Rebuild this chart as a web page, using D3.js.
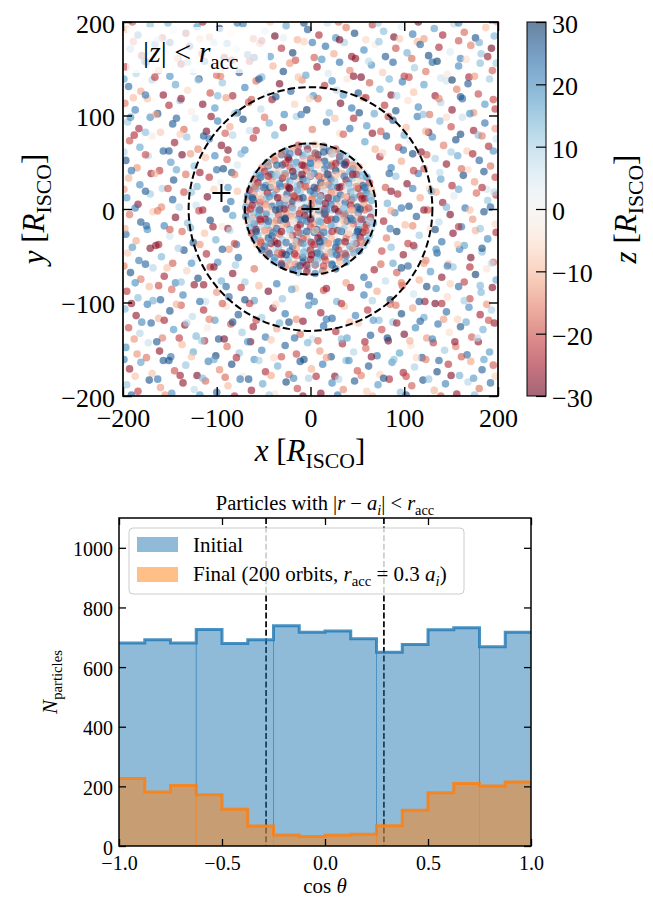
<!DOCTYPE html>
<html>
<head>
<meta charset="utf-8">
<script src="https://cdn.jsdelivr.net/npm/d3@7"></script>
<style>
  body { margin: 0; background: #fff; }
  svg { display: block; }
</style>
</head>
<body>
<script>
// ---- DATA -----------------------------------------------------------------
// scattered particles outside the accretion disk: [x, y, z] in R_ISCO
const outerParticles = [
  [-196,192,-8],[-184,186,24],[-171,197,12],[-158,183,-22],[-146,191,5],[-133,188,-27],[-121,195,18],[-108,184,-14],[-97,193,29],[-85,187,-4],[-72,198,21],[-61,182,-19],[-49,190,9],[-38,185,-30],[-26,196,16],[-14,181,-11],[-3,192,26],[9,186,-24],[18,199,7],[27,183,19],[38,194,-16],[47,188,28],[59,181,-6],[66,197,-21],[78,190,13],[89,184,-29],[97,195,3],[109,187,22],[121,182,-13],[132,193,17],[141,186,-25],[153,198,8],[164,189,-18],[176,183,27],[187,194,-9],[196,185,14],
  [-192,171,15],[-180,164,-26],[-166,176,20],[-154,168,-3],[-141,161,-17],[-129,174,25],[-116,166,-21],[-103,178,11],[-92,162,-28],[-79,171,6],[-67,165,23],[-54,177,-15],[-43,163,18],[-31,172,-23],[-19,167,29],[-7,179,-7],[4,162,-19],[16,174,24],[25,166,-12],[36,178,10],[48,161,-27],[57,170,20],[69,176,-2],[80,163,26],[91,172,-20],[103,167,15],[114,179,-10],[126,164,28],[137,173,-24],[149,168,4],[160,161,21],[171,175,-16],[182,166,12],[193,172,-29],
  [-197,152,-21],[-186,145,9],[-175,157,27],[-162,148,-13],[-150,142,19],[-138,155,-28],[-125,147,6],[-113,158,22],[-100,143,-18],[-88,151,-5],[-76,146,26],[-65,158,-24],[-52,141,14],[-40,153,-11],[-29,147,28],[-16,159,-20],[-5,143,17],[7,152,-26],[19,145,5],[31,157,23],[42,148,-15],[54,141,-29],[65,154,19],[77,146,-8],[88,157,25],[100,142,-22],[111,151,11],[123,147,-17],[135,158,29],[146,144,-3],[158,153,20],[169,141,-25],[181,156,13],[194,148,-19],
  [-194,131,24],[-181,126,-12],[-169,138,8],[-157,122,-27],[-144,133,16],[-131,127,-6],[-119,139,28],[-107,124,-20],[-94,135,12],[-83,121,-25],[-70,130,21],[-58,137,-17],[-46,123,3],[-33,134,-29],[-21,126,25],[-9,138,-14],[3,121,19],[15,132,-23],[28,127,9],[39,139,-4],[51,124,27],[63,135,-19],[74,128,14],[86,122,-28],[98,136,22],[110,125,-9],[121,133,17],[133,121,-26],[145,137,6],[156,128,-16],[168,134,26],[179,123,-21],[191,139,11],
  [-198,113,-16],[-187,106,21],[-174,118,-9],[-163,102,27],[-151,111,-24],[-139,116,13],[-127,104,-2],[-115,112,-28],[-102,108,18],[-90,119,-13],[-78,103,25],[-66,114,-20],[-53,107,8],[-41,117,-26],[-28,101,20],[-17,112,-7],[-4,106,29],[8,118,-18],[20,103,12],[32,113,-29],[44,108,23],[56,119,-11],[68,102,16],[79,111,-23],[91,105,27],[104,116,-5],[115,109,20],[127,101,-17],[139,114,9],[151,106,-27],[162,118,24],[174,103,-14],[186,112,18],[197,107,-22],
  [-195,93,11],[-183,86,-25],[-171,98,19],[-160,82,-8],[-147,91,26],[-135,85,-18],[-123,97,4],[-111,83,-29],[-99,94,21],[-86,88,-12],[-72,96,28],[-58,84,-22],[-44,92,15],[-29,87,-27],[-15,99,10],[2,85,-16],[17,93,25],[31,81,-5],[46,97,-24],[60,89,18],[75,83,-19],[88,95,27],[102,87,-10],[114,99,22],[126,82,-28],[138,94,14],[150,88,-21],[162,98,7],[174,84,-26],[186,92,23],[197,86,-13],
  [-193,73,-20],[-182,66,16],[-169,78,-3],[-157,62,25],[-145,71,-26],[-132,77,12],[-120,64,-15],[-108,75,22],[-95,68,-28],[-83,79,9],[-70,63,19],[-61,76,-23],[-38,79,14],[35,80,-19],[58,72,17],[69,64,-11],[81,78,26],[94,66,-21],[106,73,3],[118,61,-27],[130,77,20],[142,68,-16],[155,74,28],[167,62,-8],[179,79,13],[190,67,-24],[198,75,6],
  [-197,52,27],[-185,44,-14],[-173,57,8],[-161,41,-22],[-149,50,18],[-137,58,-29],[-124,46,13],[-112,55,-9],[-100,42,24],[-89,53,-19],[-78,47,5],[74,56,-25],[86,44,21],[97,51,-12],[109,59,28],[121,43,-20],[133,54,10],[145,48,-27],[157,57,16],[168,42,-6],[180,52,25],[192,46,-17],
  [-194,33,-11],[-182,26,20],[-170,38,-26],[-158,22,9],[-146,31,27],[-133,37,-17],[-121,24,14],[-108,34,-23],[-96,28,2],[-84,39,26],[80,23,-19],[91,35,12],[103,27,-28],[115,38,21],[127,22,-7],[139,32,17],[151,25,-24],[163,36,28],[175,29,-13],[188,21,6],[197,34,-21],
  [-196,12,18],[-184,5,-27],[-171,16,11],[-159,2,-15],[-147,10,25],[-135,18,-20],[-122,4,7],[-110,13,-29],[-85,8,22],[-78,19,-9],[82,6,15],[93,16,-24],[105,3,27],[117,12,-12],[129,19,19],[141,7,-26],[153,14,4],[165,1,23],[177,17,-18],[189,9,12],[198,15,-22],
  [-193,-6,-17],[-181,-14,26],[-168,-3,-8],[-156,-18,21],[-144,-9,-28],[-131,-15,13],[-119,-2,-21],[-107,-12,28],[-94,-19,-4],[-83,-7,17],[78,-13,-25],[90,-4,20],[101,-17,-10],[113,-8,26],[125,-1,-19],[137,-14,8],[149,-6,-29],[161,-19,22],[173,-11,-14],[185,-3,27],[197,-16,-6],
  [-197,-27,24],[-186,-34,-12],[-174,-22,19],[-162,-38,-25],[-150,-29,6],[-137,-24,-18],[-125,-36,27],[-113,-26,-9],[-101,-33,15],[-88,-21,-27],[-79,-38,23],[81,-31,-16],[92,-24,29],[104,-37,-22],[116,-28,11],[128,-21,-5],[140,-35,24],[152,-26,-28],[164,-39,17],[176,-23,-11],[189,-32,20],[198,-25,-24],
  [-195,-47,-8],[-183,-55,22],[-171,-42,-28],[-159,-51,14],[-147,-58,-19],[-135,-44,27],[-123,-53,3],[-111,-48,-24],[-99,-57,19],[-87,-43,-13],[-77,-52,25],[76,-45,-21],[88,-58,16],[99,-49,-27],[111,-41,9],[123,-55,-15],[135,-47,26],[147,-59,-10],[159,-43,21],[171,-52,-29],[183,-46,13],[195,-57,-18],
  [-192,-68,27],[-181,-75,-16],[-168,-63,9],[-156,-72,-25],[-144,-79,20],[-132,-66,-7],[-120,-74,28],[-107,-62,-21],[-95,-77,15],[-83,-69,-28],[-70,-78,11],[-60,-64,-17],[-36,-80,22],[38,-79,-13],[57,-73,24],[68,-65,-26],[80,-77,8],[92,-68,-19],[104,-61,25],[116,-76,-11],[128,-67,18],[140,-73,-27],[152,-62,12],[164,-78,-22],[176,-70,29],[188,-64,-4],[198,-76,16],
  [-196,-88,-23],[-184,-95,13],[-172,-83,-10],[-160,-97,26],[-148,-86,-18],[-136,-92,21],[-124,-81,-27],[-112,-99,7],[-100,-89,-14],[-87,-94,25],[-74,-84,-22],[-60,-98,17],[-45,-88,-29],[-30,-96,12],[-16,-85,-8],[-1,-93,27],[14,-87,-20],[28,-99,15],[43,-84,-25],[57,-92,22],[71,-88,-12],[85,-97,28],[98,-82,-18],[110,-91,6],[122,-99,-26],[134,-85,19],[146,-94,-6],[158,-83,24],[170,-96,-21],[182,-89,14],[194,-84,-28],
  [-198,-107,14],[-186,-114,-27],[-174,-102,22],[-162,-117,-11],[-150,-109,27],[-138,-103,-19],[-126,-115,8],[-114,-108,-24],[-102,-119,18],[-90,-104,-5],[-77,-113,26],[-65,-101,-22],[-52,-116,11],[-40,-106,-28],[-27,-112,23],[-15,-118,-14],[-2,-103,19],[11,-111,-26],[23,-117,25],[36,-104,-9],[48,-114,21],[61,-108,-23],[73,-119,13],[85,-102,-17],[97,-112,28],[109,-106,-12],[121,-116,16],[133,-101,-29],[145,-110,24],[157,-118,-7],[169,-105,20],[181,-113,-25],[193,-108,10],
  [-194,-127,-21],[-182,-133,9],[-170,-122,25],[-158,-138,-16],[-146,-129,18],[-134,-124,-28],[-122,-136,14],[-110,-127,-3],[-98,-139,27],[-85,-123,-20],[-73,-132,11],[-61,-126,-26],[-48,-137,22],[-36,-128,-12],[-23,-121,28],[-11,-134,-18],[2,-139,6],[14,-125,24],[27,-131,-24],[39,-138,17],[51,-122,-9],[64,-135,26],[76,-129,-21],[88,-121,12],[100,-134,-29],[112,-127,20],[124,-138,-14],[136,-123,23],[148,-132,-5],[160,-126,27],[172,-137,-19],[184,-129,15],[196,-122,-26],
  [-197,-148,20],[-185,-155,-14],[-173,-143,7],[-161,-152,-27],[-149,-158,23],[-137,-145,-10],[-125,-153,16],[-113,-141,-24],[-101,-157,29],[-89,-147,-17],[-76,-154,12],[-64,-142,-29],[-52,-151,21],[-39,-159,-6],[-27,-146,25],[-15,-155,-21],[-3,-143,14],[10,-152,-13],[22,-158,27],[34,-144,-25],[46,-153,9],[59,-149,-18],[71,-157,22],[83,-141,-28],[95,-154,17],[107,-146,-4],[119,-159,26],[131,-143,-22],[143,-151,11],[155,-147,-16],[167,-156,24],[179,-142,-27],[191,-153,18],
  [-193,-171,-26],[-181,-164,17],[-169,-176,-9],[-157,-162,26],[-145,-173,-20],[-133,-167,12],[-121,-178,-29],[-109,-163,21],[-97,-172,-15],[-84,-166,28],[-72,-179,-3],[-60,-161,19],[-48,-174,-24],[-35,-168,15],[-23,-177,-18],[-11,-163,27],[1,-171,-11],[13,-166,22],[26,-179,-28],[38,-162,13],[50,-173,-20],[62,-168,26],[74,-177,-7],[87,-164,18],[99,-175,-25],[111,-169,10],[123,-161,-16],[135,-174,28],[147,-166,-23],[159,-178,15],[171,-163,-12],[183,-172,25],[195,-167,-19],
  [-196,-188,12],[-184,-195,-22],[-172,-183,27],[-160,-191,-13],[-148,-197,19],[-136,-186,-27],[-124,-193,8],[-112,-184,-18],[-100,-196,25],[-88,-189,-10],[-75,-182,22],[-63,-194,-26],[-51,-187,16],[-38,-198,-4],[-26,-185,28],[-14,-192,-21],[-2,-181,10],[11,-197,-28],[23,-186,20],[35,-193,-15],[47,-184,26],[60,-195,-8],[72,-188,18],[84,-182,-24],[96,-196,13],[108,-189,-19],[120,-183,27],[132,-194,-11],[144,-187,21],[156,-198,-26],[168,-185,9],[180,-192,-17],[192,-186,24]
];

// second set of outer particles, sitting between the rows of the first set
const outerParticlesExtra = [
  [-190,200,-19],[-152,199,14],[-115,200,-25],[-78,199,22],[-43,200,-8],[-7,199,27],[30,200,-17],[72,199,11],[115,200,-28],[158,199,20],[199,200,-12],
  [-189,179,-18],[-163,181,9],[-150,178,26],[-118,182,-11],[-89,177,17],[-52,180,-25],[-29,183,3],[2,178,22],[31,181,-29],[73,179,12],[95,182,-8],[117,176,25],[158,180,-20],[180,178,15],
  [-177,158,22],[-143,161,-7],[-131,157,15],[-84,159,-24],[-60,162,28],[-22,156,-14],[12,160,19],[44,163,-27],[62,158,8],[108,161,-18],[130,157,24],[166,160,-5],[189,163,-26],[198,156,11],
  [-199,139,17],[-166,141,-23],[-120,138,10],[-96,142,-16],[-55,139,26],[-13,141,-9],[23,137,20],[46,142,-28],[84,139,14],[105,141,-21],[151,138,29],[175,142,-13],[139,140,6],
  [-189,119,-10],[-176,122,23],[-138,118,-26],[-99,121,14],[-63,117,-19],[-37,120,27],[-1,118,-6],[35,122,18],[59,119,-24],[92,121,9],[137,118,-15],[160,120,26],[195,117,-21],
  [-192,98,20],[-165,101,-12],[-143,97,25],[-106,99,-27],[-81,102,11],[-49,98,-17],[-10,101,22],[26,97,-9],[52,103,28],[83,99,-23],[120,101,13],[145,98,-6],[170,102,19],
  [-188,79,-24],[-176,82,13],[-139,80,-8],[-114,78,26],[-91,81,-19],[-65,84,7],[42,86,23],[66,81,-27],[100,79,16],[123,83,-11],[160,80,28],[183,78,-16],
  [-199,61,9],[-176,58,-21],[-151,62,27],[-128,59,-13],[-102,57,20],[-88,63,-28],[-74,59,14],[77,60,-6],[99,63,24],[124,58,-19],[150,61,11],[173,59,-25],[195,62,19],
  [-191,41,23],[-166,38,-10],[-143,42,16],[-118,39,-26],[-93,43,28],[-81,37,-15],[84,38,25],[110,41,-22],[138,39,8],[161,43,-18],[185,40,27],
  [-199,21,-13],[-176,19,26],[-152,22,-20],[-127,18,12],[-103,21,-7],[-88,23,18],[86,19,-28],[109,22,21],[134,18,-11],[158,21,16],[183,23,-24],[196,18,9],
  [-187,1,22],[-163,-2,-16],[-140,2,9],[-115,-1,-25],[-90,0,27],[86,-2,-12],[97,1,23],[121,-1,-27],[145,2,14],[170,-1,-9],[192,2,25],
  [-198,-21,-11],[-175,-18,24],[-150,-22,-19],[-128,-20,15],[-104,-19,-26],[-86,-23,8],[85,-21,21],[109,-18,-15],[133,-22,28],[158,-19,-23],[181,-21,12],
  [-190,-41,18],[-165,-39,-27],[-141,-42,10],[-118,-38,-14],[-94,-43,26],[-81,-37,-20],[86,-41,13],[110,-39,-25],[134,-43,20],[157,-38,-8],[183,-42,27],
  [-199,-61,-16],[-176,-59,25],[-153,-63,-9],[-127,-58,19],[-103,-62,-28],[-80,-60,11],[75,-59,-18],[97,-63,27],[121,-58,-13],[146,-61,22],[170,-62,-24],[193,-58,7],
  [-187,-79,19],[-162,-82,-21],[-138,-78,12],[-114,-81,-27],[-90,-83,24],[-55,-82,-10],[-20,-86,17],[17,-85,-26],[62,-81,21],[97,-79,-16],[124,-83,28],[149,-80,-7],[181,-82,14],
  [-191,-101,-27],[-168,-98,15],[-143,-102,-11],[-118,-99,24],[-94,-101,-19],[-70,-97,28],[-37,-102,-6],[4,-99,21],[33,-101,-23],[66,-98,10],[91,-103,-17],[116,-99,26],[140,-101,-24],[164,-98,11],[188,-102,-14],
  [-180,-121,20],[-156,-119,-25],[-132,-122,9],[-108,-118,-16],[-83,-121,27],[-58,-119,-21],[-33,-122,15],[-8,-120,-28],[17,-118,23],[42,-121,-10],[67,-119,18],[92,-122,-26],[117,-120,25],[142,-118,-13],[166,-121,16],[190,-119,-20],
  [-188,-139,-14],[-164,-142,26],[-140,-138,-22],[-116,-141,11],[-92,-139,-29],[-67,-142,19],[-42,-140,-8],[-17,-138,24],[8,-141,-18],[33,-139,13],[58,-142,-25],[82,-138,28],[106,-141,-11],[130,-139,21],[154,-142,-27],[178,-138,8],
  [-199,-161,22],[-175,-159,-17],[-151,-162,27],[-127,-158,-9],[-103,-161,16],[-79,-159,-24],[-55,-162,10],[-31,-158,-20],[-7,-161,28],[17,-159,-13],[41,-162,19],[65,-158,-28],[89,-161,13],[113,-159,-6],[137,-162,25],[161,-158,-19],[185,-161,17],
  [-187,-179,-9],[-163,-182,23],[-139,-178,-26],[-115,-181,14],[-91,-180,-18],[-66,-182,26],[-42,-178,-12],[-18,-181,20],[6,-179,-24],[30,-182,9],[54,-178,-16],[78,-181,27],[102,-179,-21],[126,-182,12],[150,-178,-28],[174,-181,18],[197,-179,-7],
  [-191,-199,25],[-155,-199,-14],[-118,-199,18],[-81,-200,-23],[-44,-199,11],[-8,-200,-27],[29,-199,22],[66,-200,-10],[102,-199,26],[139,-200,-19],[175,-199,13]
];

// dense particles inside r_acc: [x, y, z]
const innerParticles = [
  [-13,68,-22],[-4,67,12],[5,69,-9],[14,67,25],
  [-27,62,21],[-19,65,-14],[-11,61,8],[-3,64,-26],[5,60,17],[13,66,-7],[20,62,27],[27,64,-19],
  [-39,56,-12],[-31,58,24],[-24,55,-27],[-16,59,6],[-8,57,19],[0,54,-21],[8,58,28],[16,55,-4],[23,59,15],[31,56,-25],[38,57,10],
  [-46,50,26],[-38,52,-18],[-31,49,3],[-23,53,-29],[-15,50,20],[-8,52,-9],[0,49,14],[8,53,-23],[15,51,27],[23,48,-13],[31,52,18],[38,50,-26],[46,51,7],
  [-52,44,-16],[-45,46,22],[-37,43,-5],[-30,47,28],[-22,45,-20],[-15,42,11],[-7,46,-27],[0,44,16],[7,47,-10],[15,43,25],[22,46,-22],[30,44,4],[37,47,-28],[45,43,19],[52,45,-13],
  [-57,38,13],[-49,40,-24],[-42,37,27],[-34,41,-8],[-27,38,18],[-19,40,-29],[-11,36,9],[-4,41,-17],[4,38,24],[11,40,-3],[19,37,-21],[27,41,29],[34,38,-12],[42,40,16],[49,37,-25],[57,39,6],
  [-60,32,-19],[-53,34,25],[-45,31,-7],[-38,35,14],[-30,33,-28],[-22,30,20],[-15,34,-11],[-8,32,27],[0,35,-23],[8,31,5],[15,34,-15],[22,32,26],[30,35,-2],[38,31,-26],[45,33,17],[53,30,-9],[60,34,22],
  [-63,26,10],[-56,28,-27],[-48,25,19],[-41,29,-13],[-33,27,24],[-26,24,-20],[-19,28,6],[-11,26,-29],[-4,30,15],[4,25,-6],[11,28,28],[19,26,-17],[26,29,12],[33,24,-24],[41,27,21],[48,29,-3],[56,25,26],[63,28,-21],
  [-65,20,-25],[-58,22,16],[-51,19,-8],[-43,23,28],[-36,21,-18],[-29,18,2],[-22,22,-28],[-14,20,20],[-7,23,-12],[0,19,25],[7,22,-22],[14,20,9],[22,18,-16],[29,23,27],[36,21,-5],[43,19,18],[51,22,-27],[58,20,13],[65,21,-10],
  [-67,14,23],[-60,16,-14],[-53,13,5],[-46,17,-26],[-39,15,19],[-32,12,-9],[-25,16,27],[-18,14,-21],[-11,17,12],[-4,13,-3],[4,16,22],[11,14,-28],[18,12,16],[25,17,-11],[32,15,26],[39,13,-19],[46,16,8],[53,14,-24],[60,17,20],[67,15,-6],
  [-68,8,-11],[-61,10,27],[-54,7,-23],[-47,11,13],[-40,9,-4],[-33,6,24],[-26,10,-17],[-19,8,29],[-12,11,-26],[-5,7,8],[2,10,-15],[9,8,21],[16,6,-29],[23,11,14],[30,9,-8],[37,7,26],[44,10,-20],[51,8,3],[58,11,-27],[65,9,17],
  [-69,2,18],[-62,4,-28],[-55,1,11],[-48,5,-16],[-41,3,25],[-34,0,-7],[-27,4,19],[-20,2,-24],[-13,5,4],[-6,1,28],[1,4,-19],[8,2,14],[15,0,-27],[22,5,23],[29,3,-10],[36,1,17],[43,4,-25],[50,2,29],[57,5,-13],[64,1,6],
  [-68,-2,-20],[-61,-4,14],[-54,-1,-29],[-47,-5,22],[-40,-3,-6],[-33,0,26],[-26,-4,-15],[-19,-2,9],[-12,-5,-25],[-5,-1,17],[2,-4,-9],[9,-2,27],[16,-5,-21],[23,-1,12],[30,-3,-28],[37,-5,20],[44,-2,-3],[51,-4,24],[58,-1,-18],[65,-3,10],
  [-69,-8,25],[-62,-10,-12],[-55,-7,19],[-48,-11,-27],[-41,-9,7],[-34,-6,-20],[-27,-10,28],[-20,-8,-14],[-13,-11,21],[-6,-7,-30],[1,-10,16],[8,-8,-5],[15,-6,26],[22,-11,-23],[29,-9,11],[36,-7,-17],[43,-10,27],[50,-8,-9],[57,-11,18],[64,-9,-26],
  [-67,-14,-7],[-60,-16,21],[-53,-13,-24],[-46,-17,15],[-39,-15,-12],[-32,-12,27],[-25,-16,-19],[-18,-14,5],[-11,-17,-28],[-4,-13,23],[4,-16,-14],[11,-14,18],[18,-12,-25],[25,-17,10],[32,-15,-4],[39,-13,28],[46,-16,-21],[53,-14,13],[60,-17,-29],[67,-15,19],
  [-65,-20,16],[-58,-22,-27],[-51,-19,9],[-43,-23,-16],[-36,-21,25],[-29,-18,-10],[-22,-22,20],[-14,-20,-26],[-7,-23,6],[0,-19,-21],[7,-22,27],[14,-20,-13],[22,-18,17],[29,-23,-29],[36,-21,12],[43,-19,-6],[51,-22,24],[58,-20,-19],[65,-21,8],
  [-63,-26,-23],[-56,-28,13],[-48,-25,-8],[-41,-29,26],[-33,-27,-18],[-26,-24,4],[-19,-28,-28],[-11,-26,19],[-4,-30,-12],[4,-25,24],[11,-28,-22],[19,-26,10],[26,-29,-4],[33,-24,28],[41,-27,-15],[48,-29,17],[56,-25,-27],[63,-28,14],
  [-60,-32,22],[-53,-34,-15],[-45,-31,27],[-38,-35,-25],[-30,-33,11],[-22,-30,-5],[-15,-34,25],[-8,-32,-20],[0,-35,15],[8,-31,-29],[15,-34,20],[22,-32,-10],[30,-35,26],[38,-31,-17],[45,-33,6],[53,-30,-26],[60,-34,18],
  [-57,-38,-11],[-49,-40,24],[-42,-37,-28],[-34,-41,14],[-27,-38,-3],[-19,-40,27],[-11,-36,-19],[-4,-41,9],[4,-38,-24],[11,-40,21],[19,-37,-13],[27,-41,28],[34,-38,-7],[42,-40,17],[49,-37,-27],[57,-39,12],
  [-52,-44,26],[-45,-46,-19],[-37,-43,8],[-30,-47,-27],[-22,-45,22],[-15,-42,-12],[-7,-46,16],[0,-44,-25],[7,-47,29],[15,-43,-6],[22,-46,19],[30,-44,-22],[37,-47,11],[45,-43,-15],[52,-45,25],
  [-46,-50,-13],[-38,-52,21],[-31,-49,-26],[-23,-53,10],[-15,-50,-18],[-8,-52,27],[0,-49,-8],[8,-53,17],[15,-51,-29],[23,-48,14],[31,-52,-20],[38,-50,23],[46,-51,-4],
  [-39,-56,18],[-31,-58,-24],[-24,-55,12],[-16,-59,-15],[-8,-57,26],[0,-54,-27],[8,-58,7],[16,-55,-19],[23,-59,24],[31,-56,-10],[38,-57,20],
  [-27,-62,-17],[-19,-65,25],[-11,-61,-28],[-3,-64,13],[5,-60,-21],[13,-66,19],[20,-62,-8],[27,-64,27],
  [-13,-68,16],[-4,-67,-25],[5,-69,22],[14,-67,-12]
];

// second set inside r_acc, between the rows of the first
const innerParticlesExtra = [
  [-64,0,-22],[-55,-1,17],[-46,1,-9],[-37,-1,28],[-28,0,-26],[-19,1,13],[-10,-1,-18],[-1,0,24],[8,1,-4],[17,-1,20],[26,0,-29],[35,1,9],[44,-1,-14],[53,0,27],[62,1,-20],
  [-62,12,26],[-53,11,-12],[-44,13,19],[-35,12,-28],[-26,11,6],[-17,13,-21],[-8,12,27],[1,11,-15],[10,13,11],[19,12,-25],[28,11,22],[37,13,-7],[46,12,16],[55,11,-27],[64,13,13],
  [-63,-12,11],[-54,-11,-25],[-45,-13,23],[-36,-12,-14],[-27,-11,29],[-18,-13,-5],[-9,-12,18],[0,-11,-27],[9,-13,14],[18,-12,-19],[27,-11,25],[36,-13,-10],[45,-12,21],[54,-11,-23],[63,-13,7],
  [-59,24,-17],[-50,23,25],[-41,25,-6],[-32,24,19],[-23,23,-29],[-14,25,12],[-5,24,-20],[4,23,27],[13,25,-11],[22,24,16],[31,23,-26],[40,25,8],[49,24,-15],[58,23,24],
  [-58,-24,27],[-49,-23,-13],[-40,-25,20],[-31,-24,-27],[-22,-23,9],[-13,-25,-18],[-4,-24,26],[5,-23,-8],[14,-25,21],[23,-24,-24],[32,-23,13],[41,-25,-3],[50,-24,28],[59,-23,-19],
  [-54,36,19],[-45,35,-24],[-36,37,11],[-27,36,-15],[-18,35,26],[-9,37,-29],[0,36,7],[9,35,-19],[18,37,25],[27,36,-9],[36,35,22],[45,37,-26],[54,36,14],
  [-53,-36,-20],[-44,-35,15],[-35,-37,-28],[-26,-36,23],[-17,-35,-6],[-8,-37,18],[1,-36,-23],[10,-35,28],[19,-37,-12],[28,-36,21],[37,-35,-27],[46,-37,10],[55,-36,-16],
  [-45,48,-11],[-36,47,24],[-27,49,-22],[-18,48,13],[-9,47,-27],[0,49,22],[9,48,-5],[18,47,18],[27,49,-25],[36,48,26],[45,47,-14],
  [-44,-48,23],[-35,-47,-16],[-26,-49,27],[-17,-48,-24],[-8,-47,11],[1,-49,-29],[10,-48,19],[19,-47,-9],[28,-49,24],[37,-48,-20],[46,-47,15],
  [-31,60,-15],[-22,59,21],[-13,61,-26],[-4,60,10],[5,59,-19],[14,61,26],[23,60,-7],[32,59,17],
  [-31,-60,26],[-22,-59,-11],[-13,-61,19],[-4,-60,-27],[5,-59,14],[14,-61,-21],[23,-60,23],[32,-59,-6]
];

const circleRadii = [70, 130];          // r_acc and outer dashed circle
const crossMarks = [[0, 0], [-95, 17]];
const scatterTicks = [-200, -100, 0, 100, 200];
const zTicks = [-30, -20, -10, 0, 10, 20, 30];

// histogram of cos(theta)
const binEdges = [-1, -0.875, -0.75, -0.625, -0.5, -0.375, -0.25, -0.125, 0,
                  0.125, 0.25, 0.375, 0.5, 0.625, 0.75, 0.875, 1];
const initialCounts = [681, 692, 681, 726, 679, 692, 739, 717, 721, 695, 650, 676, 725, 732, 668, 717];
const finalCounts   = [226, 181, 203, 172, 123, 67, 37, 32, 36, 39, 68, 120, 179, 210, 201, 215];
const seamEdges = [-0.625, -0.25, 0.25, 0.75];
const cosCuts = [-0.286, 0.286];
const histXTicks = [-1, -0.5, 0, 0.5, 1];
const histYTicks = [0, 200, 400, 600, 800, 1000];


// ---- HELPERS --------------------------------------------------------------
const FONT = "'Liberation Serif', 'DejaVu Serif', serif";
const SP = "\u2005";   // math spacing around relations

// write a small piece of math as tspans: {t, i (italic), sub}
function mathText(sel, parts, size) {
	let inSub = false;
	parts.forEach(p => {
		const ts = sel.append("tspan").text(p.t);
		if (p.i) ts.attr("font-style", "italic");
		if (p.sub) {
			ts.attr("font-size", size * 0.7);
			if (!inSub) ts.attr("dy", size * 0.22);
			inSub = true;
		} else if (inSub) {
			ts.attr("dy", -size * 0.22);
			inSub = false;
		}
	});
	return sel;
}

function styleAxis(g, fontSize, width) {
	g.select(".domain").remove();
	g.attr("font-family", FONT).attr("font-size", fontSize);
	g.selectAll(".tick line").attr("stroke", "#000").attr("stroke-width", width);
	g.selectAll(".tick text").attr("fill", "#000");
}


// ---- SVG ------------------------------------------------------------------
const svg = d3.select("body").append("svg")
	.attr("width", 653)
	.attr("height", 899)
	.attr("font-family", FONT);
const defs = svg.append("defs");


// ---- TOP: SCATTER ---------------------------------------------------------
const sx = d3.scaleLinear().domain([-200, 200]).range([123, 498]);
const sy = d3.scaleLinear().domain([-200, 200]).range([396, 22]);
const zScale = d3.scaleLinear().domain([-30, 30]).range([396, 22]);
const zColor = z => d3.interpolateRdBu((z + 30) / 60);

defs.append("clipPath").attr("id", "scatterClip")
	.append("rect").attr("x", 123).attr("y", 22).attr("width", 375).attr("height", 374);

const particles = outerParticles.concat(outerParticlesExtra, innerParticles, innerParticlesExtra);
svg.append("g")
	.attr("clip-path", "url(#scatterClip)")
	.selectAll("circle")
	.data(particles)
	.enter()
	.append("circle")
		.attr("cx", d => sx(d[0]))
		.attr("cy", d => sy(d[1]))
		.attr("r", 3.8)
		.attr("fill", d => zColor(d[2]))
		.attr("fill-opacity", 0.6);

// label box |z| < r_acc
svg.append("rect")
	.attr("x", 127).attr("y", 27).attr("width", 141).attr("height", 46)
	.attr("fill", "#fff").attr("fill-opacity", 0.75);
mathText(svg.append("text").attr("x", 143).attr("y", 62).attr("font-size", 30),
	[{t: "|"}, {t: "z", i: true}, {t: "|" + SP + "<" + SP}, {t: "r", i: true}, {t: "acc", sub: true}], 30);

// dashed circles
svg.append("g")
	.selectAll("circle")
	.data(circleRadii)
	.enter()
	.append("circle")
		.attr("cx", sx(0))
		.attr("cy", sy(0))
		.attr("r", d => sx(d) - sx(0))
		.attr("fill", "none")
		.attr("stroke", "#000")
		.attr("stroke-width", 2)
		.attr("stroke-dasharray", "7.4,3.2");

// plus markers
svg.append("g")
	.selectAll("path")
	.data(crossMarks)
	.enter()
	.append("path")
		.attr("d", d => {
			const cx = sx(d[0]), cy = sy(d[1]);
			return `M${cx - 9},${cy}H${cx + 9}M${cx},${cy - 9}V${cy + 9}`;
		})
		.attr("stroke", "#000")
		.attr("stroke-width", 2);

// axes
let g = svg.append("g").attr("transform", "translate(0,396)")
	.call(d3.axisBottom(sx).tickValues(scatterTicks).tickSizeInner(-9).tickSizeOuter(0)
		.tickPadding(13).tickFormat(d3.format("d")));
styleAxis(g, 26, 1.4);
g = svg.append("g").attr("transform", "translate(0,22)")
	.call(d3.axisTop(sx).tickValues(scatterTicks).tickSizeInner(-9).tickSizeOuter(0).tickFormat(() => ""));
styleAxis(g, 26, 1.4);
g = svg.append("g").attr("transform", "translate(123,0)")
	.call(d3.axisLeft(sy).tickValues(scatterTicks).tickSizeInner(-9).tickSizeOuter(0)
		.tickPadding(8).tickFormat(d3.format("d")));
styleAxis(g, 26, 1.4);
g.selectAll(".tick text").attr("dy", "0.4em");
g = svg.append("g").attr("transform", "translate(498,0)")
	.call(d3.axisRight(sy).tickValues(scatterTicks).tickSizeInner(-9).tickSizeOuter(0).tickFormat(() => ""));
styleAxis(g, 26, 1.4);

svg.append("rect")
	.attr("x", 123).attr("y", 22).attr("width", 375).attr("height", 374)
	.attr("fill", "none").attr("stroke", "#000").attr("stroke-width", 1.7);

mathText(svg.append("text").attr("x", 310).attr("y", 461).attr("text-anchor", "middle").attr("font-size", 31),
	[{t: "x", i: true}, {t: " ["}, {t: "R", i: true}, {t: "ISCO", sub: true}, {t: "]"}], 31);
mathText(svg.append("text").attr("transform", "translate(44,209) rotate(-90)")
		.attr("text-anchor", "middle").attr("font-size", 31),
	[{t: "y", i: true}, {t: " ["}, {t: "R", i: true}, {t: "ISCO", sub: true}, {t: "]"}], 31);

// colorbar
const grad = defs.append("linearGradient").attr("id", "cbGrad")
	.attr("x1", 0).attr("y1", 1).attr("x2", 0).attr("y2", 0);
d3.range(0, 1.0001, 0.05).forEach(t => {
	grad.append("stop").attr("offset", t)
		.attr("stop-color", d3.interpolateRdBu(t)).attr("stop-opacity", 0.6);
});
svg.append("rect")
	.attr("x", 527).attr("y", 22).attr("width", 19).attr("height", 374)
	.attr("fill", "url(#cbGrad)").attr("stroke", "#000").attr("stroke-width", 1);
g = svg.append("g").attr("transform", "translate(546,0)")
	.call(d3.axisRight(zScale).tickValues(zTicks).tickSizeInner(-10).tickSizeOuter(0)
		.tickPadding(6).tickFormat(d3.format("d")));
styleAxis(g, 26, 1.2);
g.selectAll(".tick text").attr("dy", "0.4em");
mathText(svg.append("text").attr("transform", "translate(636,209) rotate(-90)")
		.attr("text-anchor", "middle").attr("font-size", 31),
	[{t: "z", i: true}, {t: " ["}, {t: "R", i: true}, {t: "ISCO", sub: true}, {t: "]"}], 31);


// ---- BOTTOM: HISTOGRAM ----------------------------------------------------
const hx = d3.scaleLinear().domain([-1, 1]).range([119, 531]);
const hy = d3.scaleLinear().domain([0, 1100]).range([846, 518]);

defs.append("clipPath").attr("id", "histClip")
	.append("rect").attr("x", 119).attr("y", 518).attr("width", 412).attr("height", 328);

const hist = svg.append("g").attr("clip-path", "url(#histClip)");

// cut lines (drawn below the fills)
hist.selectAll("line.cut")
	.data(cosCuts)
	.enter()
	.append("line")
		.attr("class", "cut")
		.attr("x1", d => hx(d)).attr("x2", d => hx(d))
		.attr("y1", hy(1100)).attr("y2", hy(0))
		.attr("stroke", "#000")
		.attr("stroke-width", 1.7)
		.attr("stroke-dasharray", "6,2.6");

const stepData = counts => binEdges.map((e, i) => [e, counts[Math.min(i, counts.length - 1)]]);
const area = d3.area().curve(d3.curveStepAfter)
	.x(d => hx(d[0])).y0(hy(0)).y1(d => hy(d[1]));
const line = d3.line().curve(d3.curveStepAfter)
	.x(d => hx(d[0])).y(d => hy(d[1]));
const binAt = (counts, e) => {
	const i = binEdges.indexOf(e);
	return Math.min(counts[i - 1], counts[i]);
};

hist.append("path").attr("d", area(stepData(initialCounts)))
	.attr("fill", "#1f77b4").attr("fill-opacity", 0.5);
hist.append("path").attr("d", area(stepData(finalCounts)))
	.attr("fill", "#ff7f0e").attr("fill-opacity", 0.5);

// seams of the filled patches
hist.selectAll("line.seamB")
	.data(seamEdges)
	.enter()
	.append("line")
		.attr("x1", d => hx(d)).attr("x2", d => hx(d))
		.attr("y1", d => hy(binAt(finalCounts, d))).attr("y2", d => hy(binAt(initialCounts, d)))
		.attr("stroke", "#1f77b4").attr("stroke-opacity", 0.6).attr("stroke-width", 1);
hist.selectAll("line.seamO")
	.data(seamEdges)
	.enter()
	.append("line")
		.attr("x1", d => hx(d)).attr("x2", d => hx(d))
		.attr("y1", hy(0)).attr("y2", d => hy(binAt(finalCounts, d)))
		.attr("stroke", "#ff7f0e").attr("stroke-opacity", 0.6).attr("stroke-width", 1);

hist.append("path").attr("d", line(stepData(initialCounts)))
	.attr("fill", "none").attr("stroke", "#1f77b4").attr("stroke-opacity", 0.8).attr("stroke-width", 3);
hist.append("path").attr("d", line(stepData(finalCounts)))
	.attr("fill", "none").attr("stroke", "#ff7f0e").attr("stroke-opacity", 0.85).attr("stroke-width", 3);

// axes
g = svg.append("g").attr("transform", "translate(0,846)")
	.call(d3.axisBottom(hx).tickValues(histXTicks).tickSizeInner(-7).tickSizeOuter(0)
		.tickPadding(10).tickFormat(d3.format(".1f")));
styleAxis(g, 20, 1.3);
g = svg.append("g").attr("transform", "translate(0,518)")
	.call(d3.axisTop(hx).tickValues(histXTicks).tickSizeInner(-7).tickSizeOuter(0).tickFormat(() => ""));
styleAxis(g, 20, 1.3);
g = svg.append("g").attr("transform", "translate(119,0)")
	.call(d3.axisLeft(hy).tickValues(histYTicks).tickSizeInner(-7).tickSizeOuter(0)
		.tickPadding(6).tickFormat(d3.format("d")));
styleAxis(g, 20, 1.3);
g.selectAll(".tick text").attr("dy", "0.4em");
g = svg.append("g").attr("transform", "translate(531,0)")
	.call(d3.axisRight(hy).tickValues(histYTicks).tickSizeInner(-7).tickSizeOuter(0).tickFormat(() => ""));
styleAxis(g, 20, 1.3);

// legend
svg.append("rect")
	.attr("x", 129).attr("y", 528).attr("width", 335).attr("height", 66).attr("rx", 4)
	.attr("fill", "#fff").attr("fill-opacity", 0.8)
	.attr("stroke", "#ccc").attr("stroke-width", 1);
svg.append("rect").attr("x", 137).attr("y", 537).attr("width", 41).attr("height", 15)
	.attr("fill", "#1f77b4").attr("fill-opacity", 0.5);
svg.append("rect").attr("x", 137).attr("y", 567).attr("width", 41).attr("height", 15)
	.attr("fill", "#ff7f0e").attr("fill-opacity", 0.5);
svg.append("text").attr("x", 193).attr("y", 552).attr("font-size", 21).text("Initial");
mathText(svg.append("text").attr("x", 193).attr("y", 581).attr("font-size", 21),
	[{t: "Final (200 orbits, "}, {t: "r", i: true}, {t: "acc", sub: true}, {t: SP + "=" + SP + "0.3 "},
	 {t: "a", i: true}, {t: "i", i: true, sub: true}, {t: ")"}], 21);

svg.append("rect")
	.attr("x", 119).attr("y", 518).attr("width", 412).attr("height", 328)
	.attr("fill", "none").attr("stroke", "#000").attr("stroke-width", 1.5);

// titles
mathText(svg.append("text").attr("x", 325).attr("y", 510).attr("text-anchor", "middle").attr("font-size", 20.5),
	[{t: "Particles with |"}, {t: "r", i: true}, {t: SP + "−" + SP}, {t: "a", i: true}, {t: "i", i: true, sub: true},
	 {t: "|" + SP + "<" + SP}, {t: "r", i: true}, {t: "acc", sub: true}], 20.5);
mathText(svg.append("text").attr("x", 325).attr("y", 893).attr("text-anchor", "middle").attr("font-size", 21),
	[{t: "cos "}, {t: "θ", i: true}], 21);
mathText(svg.append("text").attr("transform", "translate(57,682) rotate(-90)")
		.attr("text-anchor", "middle").attr("font-size", 21),
	[{t: "N", i: true}, {t: "particles", sub: true}], 21);
</script>
</body>
</html>
